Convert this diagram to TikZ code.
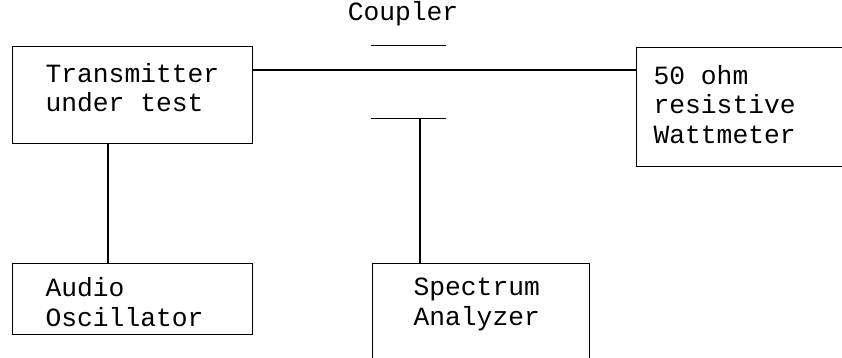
\documentclass[tikz,border=0pt]{standalone}
\usepackage{fontspec}
\setmonofont{Liberation Mono}
\tikzset{rig/.style={x=1pt,y=-1pt,line width=1.2pt},
  unit/.style={draw,rectangle,inner sep=0pt,anchor=north west},
  lbl/.style={inner sep=0pt,align=left,font=\fontsize{26.3}{29.5}\selectfont\ttfamily}}

\begin{document}
\begin{tikzpicture}[rig]
    \useasboundingbox (0,0) rectangle (842,357);
    \node[unit,minimum width=240pt,minimum height=97pt] (tx) at (12,46) {}; % transmitter box
    \node[unit,minimum width=240pt,minimum height=71pt] (osc) at (12,263) {}; % audio box
    \node[unit,minimum width=260pt,minimum height=119pt] (wm) at (636,47) {}; % wattmeter box
    \node[unit,minimum width=217pt,minimum height=130pt] (sa) at (372,263) {}; % analyzer box
    \node[inner sep=0pt,minimum width=73pt,minimum height=72pt] (cpl) at (408.5,82) {}; % coupler
    \node[lbl,anchor=base west] (txt) at (45,111.5) {Transmitter\\under test}; % base = last line
    \node[lbl,anchor=base west] (osct) at (45,326) {Audio\\Oscillator};
    \node[lbl,anchor=base west] (wmt) at (653,143) {50 ohm\\resistive\\Wattmeter};
    \node[lbl,anchor=base west] (sat) at (413,325) {Spectrum\\Analyzer};
    \node[lbl,anchor=base] (cplt) at (403,20) {Coupler};
    \draw (cpl.north west) -- (cpl.north east); % upper plate
    \draw (cpl.south west) -- (cpl.south east); % lower plate
    \draw ([yshift=-24pt]tx.north east) -- ([yshift=-24pt]tx.north east -| wm.west); % main line
    \draw ([xshift=96pt]tx.south west) -- ([xshift=96pt]osc.north west); % audio feed
    \draw ([xshift=11.5pt]cpl.south) -- ([xshift=11.5pt]cpl.south |- sa.north); % to analyzer
\end{tikzpicture}
\end{document}
